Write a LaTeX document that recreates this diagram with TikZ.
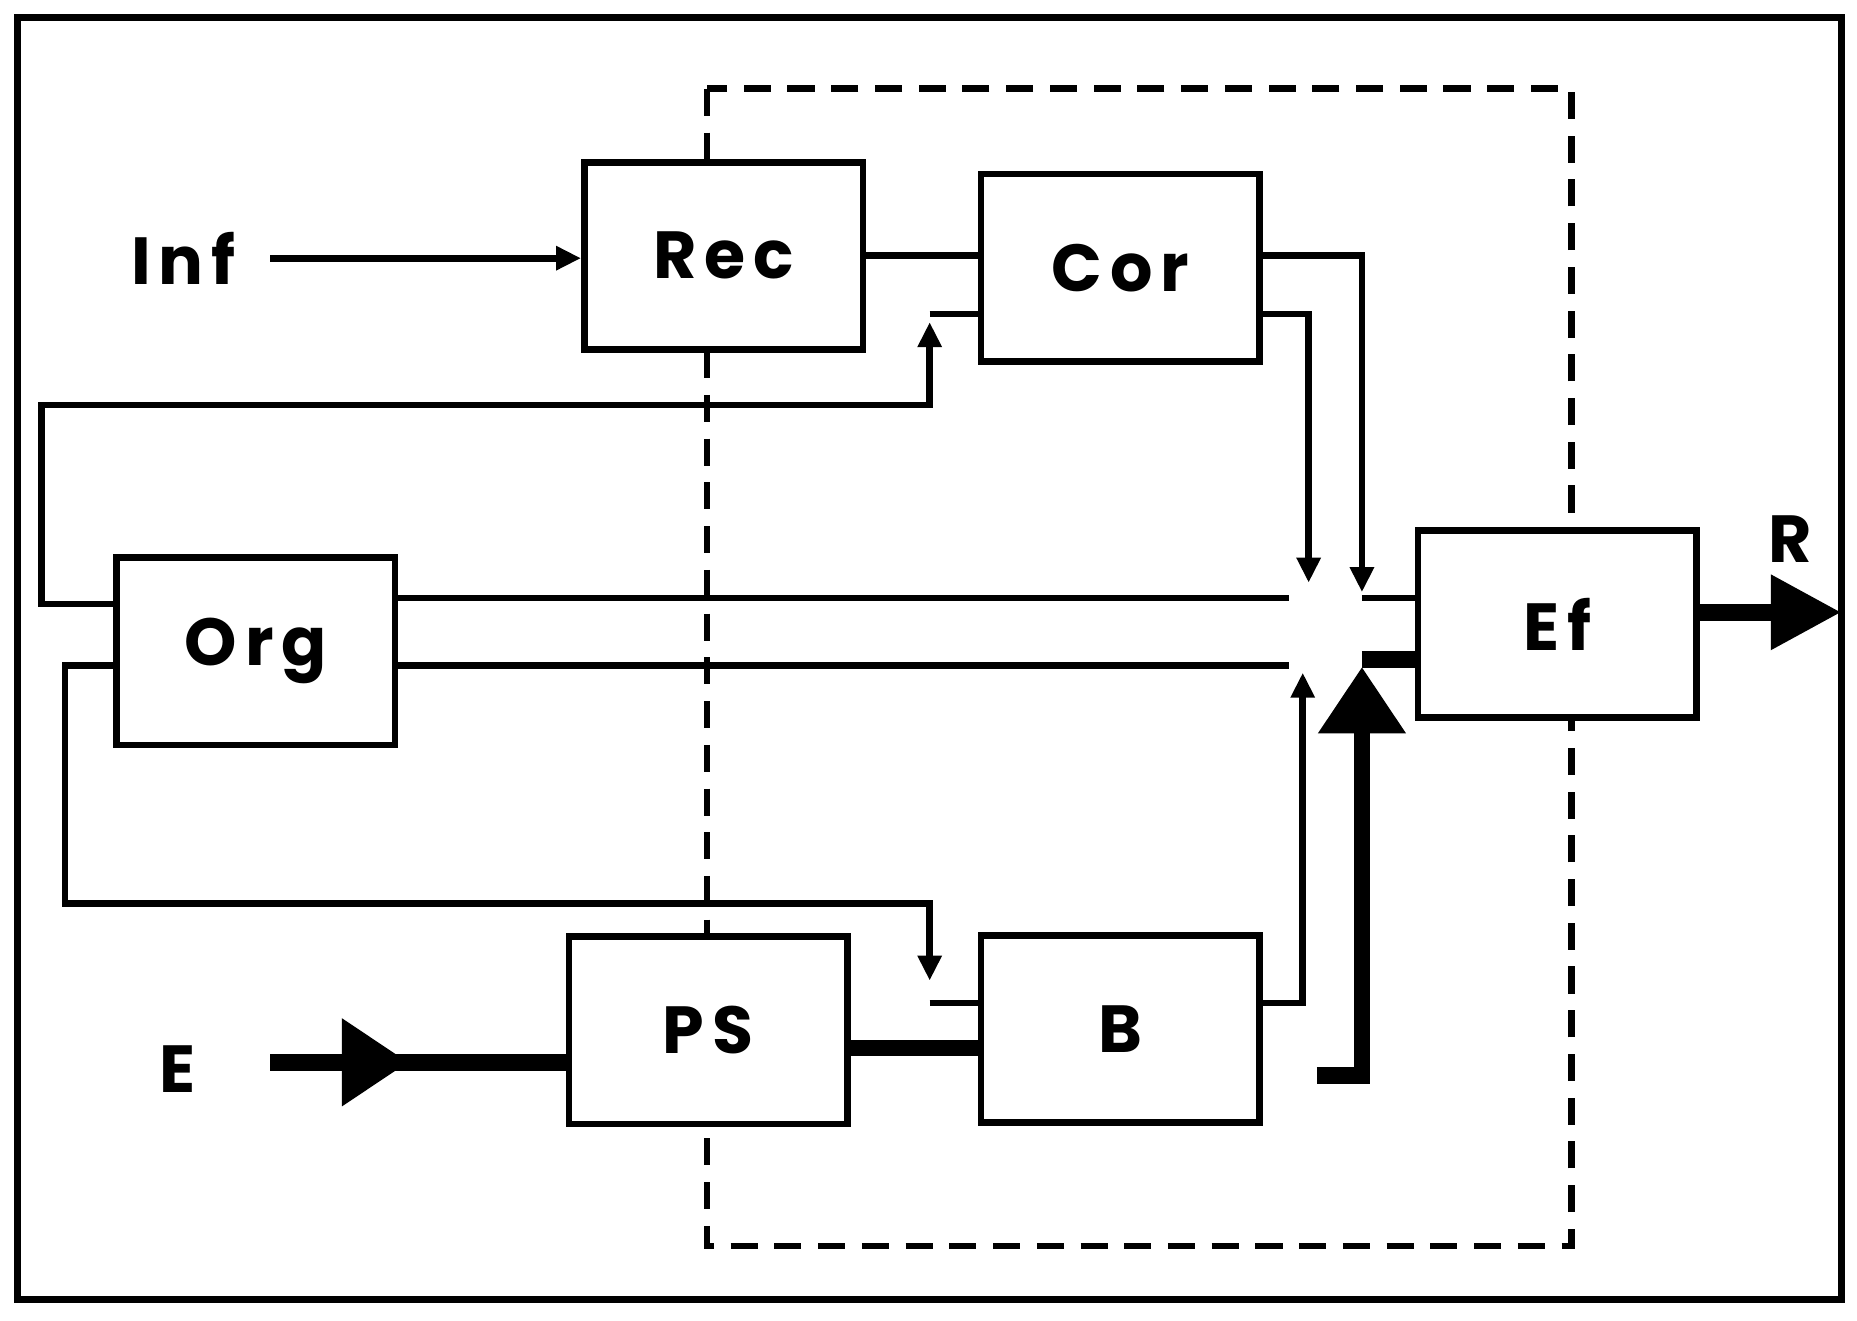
\documentclass[tikz,border=0pt]{standalone}
\usepackage{fontspec}
\setmainfont{Poppins}
\usetikzlibrary{arrows.meta, positioning}

\begin{document}
\begin{tikzpicture}[x=0.01cm, y=-0.01cm,
        block/.style={
          rectangle,
          draw,
          line width=1.6pt,
          fill=white,
          minimum width=2.35cm,
          minimum height=1.58cm,
          font=\fontsize{16}{20}\selectfont\bfseries\addfontfeature{LetterSpace=12}
        },
        lbl/.style={font=\fontsize{16}{20}\selectfont\bfseries\addfontfeature{LetterSpace=12}},
        line/.style={line width=1.6pt},
        arr/.style={-{Triangle[length=6pt 0 0,width=5.5pt 0 0]}, line width=1.6pt}
    ]
    \useasboundingbox (0,0) rectangle (1568,1115);
    \draw[line width=1.6pt] (15,15) rectangle (1555,1097);

    % Dashed box
    \draw[line width=1.6pt, dash pattern=on 6.5pt off 4pt] (597,75) rectangle (1327,1052);

    % Define the nodes
    \node[block] (rec) at (611,216) {Rec};
    \node[block] (cor) at (946,226) {Cor};
    \node[block] (org) at (216,550) {Org};
    \node[block] (ef) at (1315,527) {Ef};
    \node[block] (ps) at (598,870) {PS};
    \node[block] (b) at (946,869) {B};

    \node[lbl] (inf) at (155,218) {Inf};
    \node[lbl] (e) at (150,903) {E};
    \node[lbl] (r) at (1512,455) {R};

    \coordinate (infEnd) at (228,218);
    \coordinate (eEnd) at (228,897);
    \coordinate (corIn) at (785,265);
    \coordinate (bIn) at (785,847);

    % Connect the nodes
    \draw[arr] (infEnd) -- (rec.west |- infEnd);
    \draw[line] (rec.east |- 0,216) -- (cor.west |- 0,216);
    \draw[line] (corIn) -- (cor.west |- corIn);
    \draw[arr] (org.west |- 0,510) -- (35,510) -- (35,342) -- (785,342) -- (785,272);
    \draw[arr] (cor.east |- 0,216) -- (1150,216) -- (1150,500);
    \draw[arr] (cor.east |- 0,265) -- (1105,265) -- (1105,492);
    \draw[line] (org.east |- 0,505) -- (1088,505);
    \draw[line] (org.east |- 0,562) -- (1088,562);
    \draw[line] (1150,505) -- (ef.west |- 0,505);
    \draw[line width=4pt] (1150,557) -- (ef.west |- 0,557);
    \draw[arr] (org.west |- 0,562) -- (55,562) -- (55,763) -- (785,763) -- (785,828);
    \draw[line] (bIn) -- (b.west |- bIn);
    \draw[arr] (b.east |- 0,847) -- (1100,847) -- (1100,568);
    \draw[-{Triangle[length=16pt 0 0,width=20pt 0 0]}, line width=4pt] (1112,908) -- (1150,908) -- (1150,563);
    \draw[line width=4pt] (eEnd) -- (ps.west |- eEnd);
    \draw[-{Triangle[length=16pt 0 0,width=20pt 0 0]}, line width=4pt] (eEnd) -- (345,897);
    \draw[line width=4pt] (ps.east |- 0,885) -- (b.west |- 0,885);
    \draw[-{Triangle[length=17pt 0 0,width=17pt 0 0]}, line width=4pt] (ef.east |- 0,517) -- (1555,517);
\end{tikzpicture}
\end{document}
